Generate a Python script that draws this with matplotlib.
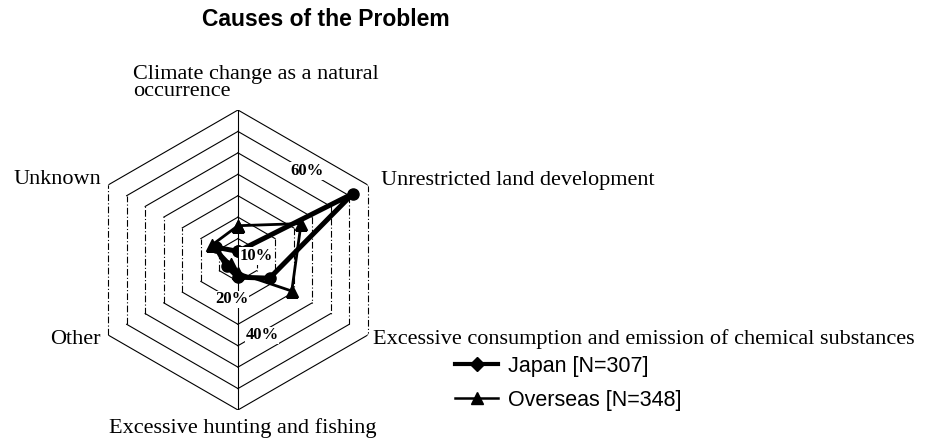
import matplotlib.pyplot as plt
import numpy as np
from matplotlib.lines import Line2D

# categories, clockwise from the top
categories = [
    "Climate change as a natural\noccurrence",
    "Unrestricted land development",
    "Excessive consumption and emission of chemical substances",
    "Excessive hunting and fishing",
    "Other",
    "Unknown",
]
japan = [4, 62, 17, 8, 6, 12]
overseas = [16, 34, 29, 6, 4, 14]
rings = [10, 20, 30, 40, 50, 60, 70]
ring_labels = {10: "10%", 20: "20%", 40: "40%", 60: "60%"}
series_names = ["Japan [N=307]", "Overseas [N=348]"]

serif = "Liberation Serif"
sans = "Liberation Sans"
label_size = 16

fig = plt.figure(figsize=(9.25, 4.43), dpi=100)
fig.patch.set_facecolor("white")
ax = fig.add_axes([0.0951, 0.0745, 0.3243, 0.6772], projection="polar")
ax.set_theta_zero_location("N")
ax.set_theta_direction(-1)
ax.set_ylim(0, 70)
ax.set_xticks([])
ax.set_yticks([])
ax.grid(False)
ax.spines["polar"].set_visible(False)

n = len(categories)
theta = np.arange(n) * 2 * np.pi / n


def edge_point(r, i, j, frac):
    # point on the straight edge of ring r between spoke i and spoke j, as (theta, rho)
    x0, y0 = r * np.sin(theta[i]), r * np.cos(theta[i])
    x1, y1 = r * np.sin(theta[j]), r * np.cos(theta[j])
    x = x0 + (x1 - x0) * frac
    y = y0 + (y1 - y0) * frac
    return np.arctan2(x, y), np.hypot(x, y)


# hexagonal rings: the two vertical sides dash-dot, the rest solid
for r in rings:
    for i in range(n):
        j = (i + 1) % n
        dashed = i in (1, 4)
        ax.plot([theta[i], theta[j]], [r, r], color="black", lw=0.8,
                ls=(0, (6, 2, 1, 2)) if dashed else "-", zorder=1)

# vertical spokes
ax.plot([theta[0], theta[0]], [0, 70], color="black", lw=0.8, zorder=1)
ax.plot([theta[3], theta[3]], [0, 70], color="black", lw=0.8, zorder=1)

# data
t_closed = np.append(theta, theta[0])
ax.plot(t_closed, japan + japan[:1], color="black", lw=3.6, marker="o",
        ms=8, zorder=4, solid_joinstyle="round")
ax.plot(t_closed, overseas + overseas[:1], color="black", lw=2.0, marker="^",
        ms=8, zorder=3)

# ring percentage labels sitting on ring edges
label_edges = {10: (1, 2, 0.3), 20: (3, 4, 0.16), 40: (3, 2, 0.31), 60: (0, 1, 0.62)}
for r, txt in ring_labels.items():
    i, j, frac = label_edges[r]
    a, rho = edge_point(r, i, j, frac)
    if r == 40:
        rho += 1.5
    ax.text(a, rho, txt, fontsize=12, family=serif, fontweight="bold",
            ha="center", va="center", zorder=5,
            bbox=dict(boxstyle="square,pad=0.05", fc="white", ec="none"))

# category labels
fig.text(133 / 925, 1 - 83 / 443, categories[0], family=serif,
         fontsize=label_size, ha="left", va="center", linespacing=0.8)
fig.text(381 / 925, 1 - 180 / 443, categories[1], family=serif,
         fontsize=label_size, ha="left", va="center")
fig.text(373 / 925, 1 - 339 / 443, categories[2], family=serif,
         fontsize=label_size, ha="left", va="center")
fig.text(243 / 925, 1 - 428 / 443, categories[3], family=serif,
         fontsize=label_size, ha="center", va="center")
fig.text(101 / 925, 1 - 339 / 443, categories[4], family=serif,
         fontsize=label_size, ha="right", va="center")
fig.text(101 / 925, 1 - 180 / 443, categories[5], family=serif,
         fontsize=label_size, ha="right", va="center")

fig.text(326 / 925, 1 - 19 / 443, "Causes of the Problem", family=sans,
         fontsize=16.5, fontweight="bold", ha="center", va="center")

handles = [
    Line2D([], [], color="black", lw=3.0, marker="D", ms=7),
    Line2D([], [], color="black", lw=1.8, marker="^", ms=8),
]
fig.legend(handles, series_names,
           loc="upper left", bbox_to_anchor=(455 / 925, 1 - 356 / 443),
           frameon=False, prop={"family": sans, "size": 15.5},
           borderaxespad=0, borderpad=0,
           handlelength=2.0, labelspacing=0.6, handletextpad=0.45)

fig.savefig("out.png", dpi=100)
